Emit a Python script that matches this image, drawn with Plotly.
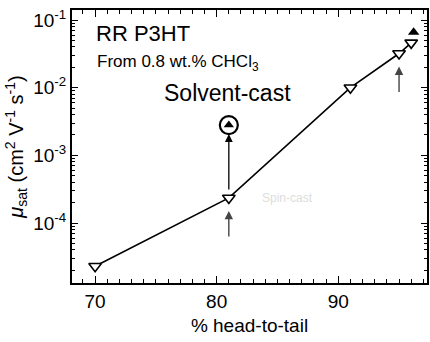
import math
import plotly.graph_objects as go

# data
spin_x = [70, 81, 91, 95, 96]
spin_y = [2.3e-5, 2.35e-4, 1.0e-2, 3.2e-2, 4.6e-2]
solvent_x = [81]
solvent_y = [2.8e-3]
top_x = [96.2]
top_y = [6.6e-2]
arrow_x = [81, 95]
arrow_y = [2.35e-4, 3.2e-2]
ytick_vals = [1e-4, 1e-3, 1e-2, 1e-1]
ytick_text = ["10<sup>-4</sup>", "10<sup>-3</sup>", "10<sup>-2</sup>", "10<sup>-1</sup>"]
xtick_vals = [70, 80, 90]

FONT = "Liberation Sans, Arial, sans-serif"

fig = go.Figure()
fig.add_trace(go.Scatter(
    x=spin_x, y=spin_y, mode="lines+markers", cliponaxis=False,
    line=dict(color="black", width=1.6),
    marker=dict(symbol="triangle-down", size=11, color="white",
                line=dict(color="black", width=1.6)),
    showlegend=False))
fig.add_trace(go.Scatter(
    x=top_x, y=top_y, mode="markers", cliponaxis=False,
    marker=dict(symbol="triangle-up", size=10, color="black"),
    showlegend=False))
fig.add_trace(go.Scatter(
    x=solvent_x, y=solvent_y, mode="markers",
    marker=dict(symbol="circle-open", size=18, color="black",
                line=dict(color="black", width=2.2)),
    showlegend=False))
fig.add_trace(go.Scatter(
    x=solvent_x, y=solvent_y, mode="markers",
    marker=dict(symbol="triangle-up", size=9, color="black"),
    showlegend=False))

# vertical arrow from spin-cast point to solvent-cast point
fig.add_annotation(x=solvent_x[0], y=math.log10(solvent_y[0]),
                   ax=solvent_x[0], ay=math.log10(arrow_y[0]),
                   axref="x", ayref="y", xref="x", yref="y",
                   showarrow=True, arrowhead=2, arrowsize=1.2, arrowwidth=1.3,
                   arrowcolor="black", standoff=9, startstandoff=7, text="")
# small arrows below points
for ax_, ay_ in zip(arrow_x, arrow_y):
    fig.add_annotation(x=ax_, y=math.log10(ay_), xref="x", yref="y",
                       ax=0, ay=40, showarrow=True, arrowhead=2, arrowsize=1.2,
                       arrowwidth=1.4, arrowcolor="#444", standoff=13, text="")

fig.add_annotation(x=0.062, y=0.915, xref="paper", yref="paper",
                   text="RR P3HT", showarrow=False, xanchor="left", yanchor="middle",
                   font=dict(family=FONT, size=22, color="black"))
fig.add_annotation(x=0.064, y=0.805, xref="paper", yref="paper",
                   text="From 0.8 wt.% CHCl<sub>3</sub>", showarrow=False,
                   xanchor="left", yanchor="middle",
                   font=dict(family=FONT, size=17, color="black"))
fig.add_annotation(x=80.9, y=math.log10(solvent_y[0]), yshift=32, xref="x", yref="y",
                   text="Solvent-cast", showarrow=False, xanchor="center", yanchor="middle",
                   font=dict(family=FONT, size=23, color="black"))
fig.add_annotation(x=85.8, y=math.log10(arrow_y[0]), xref="x", yref="y",
                   text="Spin-cast", showarrow=False, xanchor="center", yanchor="middle",
                   font=dict(family=FONT, size=12, color="#dddddd"))

fig.update_xaxes(
    range=[68.1, 97.3], tickvals=xtick_vals, ticks="inside", ticklen=7,
    tickwidth=1.3, tickcolor="black", showline=True, linecolor="black", linewidth=2,
    mirror="ticks", showgrid=False, zeroline=False, automargin=False,
    minor=dict(ticks="inside", ticklen=4, tickwidth=1.2, tickcolor="black", dtick=1),
    tickfont=dict(family=FONT, size=19, color="black"),
    title=dict(text="% head-to-tail", font=dict(family=FONT, size=19, color="black"),
               standoff=8))
fig.update_yaxes(
    type="log", range=[-4.886, -0.852], tickvals=ytick_vals, ticktext=ytick_text,
    ticks="inside", ticklen=6, tickwidth=1.3, tickcolor="black",
    showline=True, linecolor="black", linewidth=2, mirror="ticks",
    showgrid=False, zeroline=False, automargin=False,
    minor=dict(ticks="inside", ticklen=3, tickwidth=1, tickcolor="black", dtick="D1"),
    tickfont=dict(family=FONT, size=19, color="black"),
    title=dict(text="<i>μ</i><sub>sat</sub> (cm<sup>2</sup> V<sup>-1</sup> s<sup>-1</sup>)",
               font=dict(family=FONT, size=20, color="black"), standoff=4))

fig.update_layout(width=430, height=342, margin=dict(l=72, r=3, t=10, b=59),
                  plot_bgcolor="white", paper_bgcolor="white", showlegend=False)
fig.write_html("out.html", config={"displayModeBar": False},
               post_script="document.body.style.margin='0';")
